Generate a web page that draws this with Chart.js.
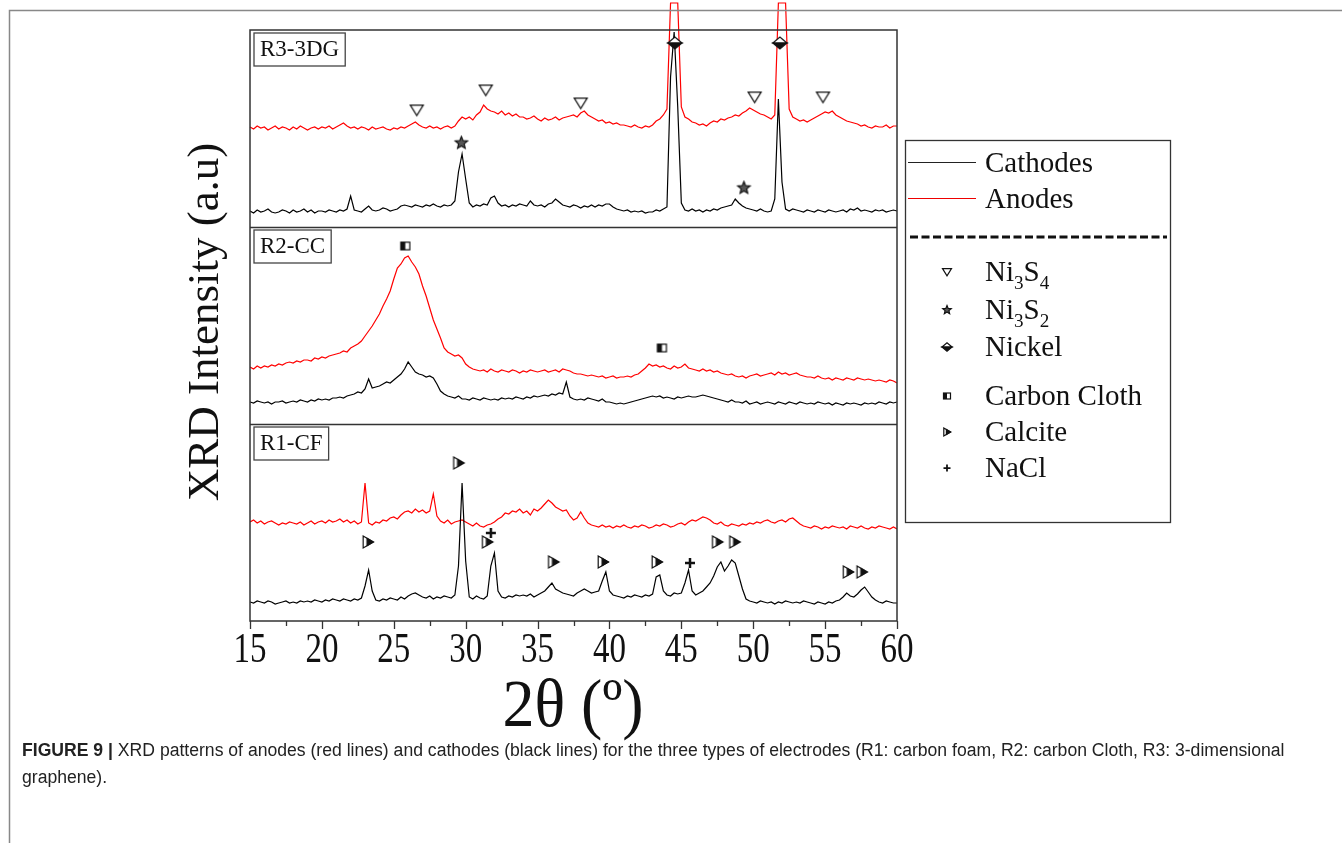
<!DOCTYPE html>
<html>
<head>
<meta charset="utf-8">
<script src="https://cdn.jsdelivr.net/npm/chart.js"></script>
<style>
    body { margin: 0; background: #fff; }
    #wrap { position: relative; width: 1342px; height: 843px; }
    #caption { position: absolute; left: 22px; top: 737px; font: 17.6px "Liberation Sans", Arial, sans-serif; line-height: 27px; color: #222; white-space: nowrap; }
</style>
</head>
<body>
<div id="wrap">
    <canvas id="xrd" width="1342" height="843"></canvas>
    <div id="caption"><b>FIGURE 9 |</b> XRD patterns of anodes (red lines) and cathodes (black lines) for the three types of electrodes (R1: carbon foam, R2: carbon Cloth, R3: 3-dimensional<br>graphene).</div>
</div>
<script>
    // 2theta grid: 15 to 60 deg, 0.25 deg step
    var thetaStart = 15;
    var thetaStep = 0.25;
    var tickLabels = [15, 20, 25, 30, 35, 40, 45, 50, 55, 60];
    var panelNames = ['R1-CF', 'R2-CC', 'R3-3DG'];
    var panelHeight = 197;

    // R3-3DG
    var dgAnode = [
        100,98,101,99, 100,97,99,101, 98,100,99,97, 100,98,101,99, 97,99,100,98,
        100,99,101,98, 100,102,104,101, 99,100,98,100, 99,97,100,98, 99,100,98,97,
        99,98,100,99, 101,103,105,102, 100,99,101,99, 100,98,100,101, 99,101,106,110,
        108,110,107,112, 115,122,118,116, 115,113,116,112, 114,111,113,110, 110,108,109,111,
        108,106,109,107, 108,110,107,109, 110,111,112,110, 114,116,112,110, 108,106,107,104,
        105,103,104,102, 102,101,100,102, 100,99,101,100, 102,106,108,112, 118,224,224,224,
        120,110,108,105, 104,102,103,101, 104,106,105,108, 107,109,110,112, 111,114,116,119,
        117,115,113,112, 110,108,112,224, 224,224,118,110, 108,106,107,105, 107,109,111,113,
        115,114,116,112, 110,108,106,105, 104,103,101,102, 100,99,101,100, 100,102,99,101,
        101
    ];
    var dgCathode = [
        16,14,17,15, 16,18,15,14, 15,17,16,14, 17,15,16,18, 15,17,14,16,
        16,15,17,16, 15,17,16,18, 31,17,16,15, 18,21,17,16, 17,19,18,16,
        17,18,21,22, 21,20,22,21, 20,22,21,23, 21,20,22,21, 22,26,55,73,
        48,24,20,22, 21,23,22,29, 31,24,21,22, 20,22,21,23, 22,21,26,22,
        21,22,20,23, 24,28,25,22, 21,20,22,21, 19,21,20,22, 20,22,21,23,
        23,20,18,17, 16,17,15,16, 15,16,14,15, 15,17,16,18, 20,150,195,120,
        24,17,16,18, 16,17,15,17, 16,18,17,19, 20,21,22,28, 24,21,19,18,
        17,16,18,16, 15,16,28,128, 45,18,16,18, 17,16,15,17, 16,15,17,16,
        15,17,16,15, 16,17,15,18, 17,19,16,17, 16,15,17,16, 17,15,16,17,
        16
    ];

    // R2-CC
    var ccAnode = [
        57,55,58,56, 58,57,59,58, 60,59,61,62, 61,63,62,64, 64,63,66,65,
        67,66,68,69, 70,71,73,72, 76,78,80,83, 88,93,98,104, 110,118,125,133,
        145,156,160,166, 168,162,157,150, 138,128,116,104, 95,86,76,72, 70,68,69,66,
        60,57,55,54, 53,54,52,55, 53,52,54,53, 52,54,53,51, 53,52,54,53,
        52,53,54,52, 53,54,52,55, 54,53,51,50, 50,49,48,49, 48,47,48,46,
        47,48,46,47, 47,48,47,49, 50,53,56,60, 58,59,57,58, 56,55,58,56,
        57,60,56,55, 54,53,55,53, 54,52,53,51, 50,49,50,48, 47,48,46,48,
        49,50,48,49, 50,51,49,52, 50,51,49,50, 51,49,48,47, 47,46,48,46,
        45,46,44,46, 45,44,46,45, 44,46,45,44, 45,44,43,44, 43,42,44,43,
        41
    ];
    var ccCathode = [
        22,21,23,22, 21,22,20,22, 22,23,21,22, 23,22,24,23, 22,24,23,25,
        24,25,24,26, 26,27,26,28, 29,30,32,31, 35,45,36,37, 38,40,42,41,
        44,47,50,55, 62,57,52,50, 49,47,48,46, 40,33,30,28, 27,26,28,25,
        25,24,26,25, 24,26,25,24, 25,24,26,25, 26,25,27,26, 25,27,26,28,
        27,28,29,28, 30,29,31,30, 42,27,25,24, 25,24,26,25, 24,23,25,22,
        22,21,20,21, 20,21,22,23, 24,25,26,27, 28,27,28,26, 27,26,25,27,
        26,27,28,27, 27,28,29,28, 27,26,25,24, 23,22,24,22, 22,21,23,20,
        21,22,20,21, 22,21,20,22, 21,20,22,21, 20,22,21,20, 21,20,22,21,
        20,21,19,21, 20,19,21,20, 21,20,19,21, 20,21,20,22, 21,20,22,21,
        22
    ];

    // R1-CF
    var cfAnode = [
        99,101,98,100, 97,99,100,98, 96,98,97,99, 98,97,99,96, 98,100,97,99,
        100,98,101,99, 100,102,99,101, 98,100,97,99, 138,98,96,99, 98,101,100,103,
        104,102,106,109, 110,108,112,109, 111,108,110,127, 105,100,98,101, 97,99,100,101,
        99,97,95,98, 95,94,96,97, 99,102,104,108, 107,110,109,112, 108,110,106,112,
        110,113,117,121, 118,114,112,110, 111,105,101,103, 109,103,98,96, 95,94,96,94,
        95,93,95,94, 96,94,93,95, 94,96,95,93, 94,96,95,97, 96,94,95,97,
        98,96,99,101, 100,102,104,103, 101,98,97,99, 96,95,97,96, 95,97,96,98,
        97,99,98,100, 101,99,98,100, 101,99,102,103, 100,97,95,94, 93,95,94,92,
        94,93,95,94, 93,94,92,95, 94,93,95,93, 92,94,93,95, 94,93,92,94,
        92
    ];
    var cfCathode = [
        19,18,20,19, 18,20,19,17, 18,19,20,18, 19,18,20,19, 20,19,21,20,
        19,21,20,22, 21,20,22,21, 20,22,21,23, 35,51,30,21, 20,22,21,23,
        22,21,24,22, 25,27,28,26, 24,23,25,22, 24,23,25,24, 23,26,55,138,
        60,24,22,25, 23,22,25,55, 68,30,24,23, 25,24,26,25, 26,25,27,24,
        26,28,30,34, 38,32,30,28, 27,26,25,28, 30,32,30,28, 29,30,40,49,
        30,26,25,24, 23,25,24,26, 25,24,26,25, 27,44,46,30, 26,25,28,27,
        28,38,51,30, 26,28,30,34, 38,45,54,59, 50,55,61,58, 45,32,22,20,
        19,18,20,19, 18,19,17,19, 18,20,19,18, 19,18,20,19, 18,17,19,18,
        17,19,18,20, 21,24,28,25, 24,27,31,34, 29,24,21,19, 18,20,19,18,
        18
    ];

    // phase markers [2theta, height in panel]
    var ni3s4Peaks = [[26.6, 117], [31.4, 137], [38.0, 124], [50.1, 130], [54.85, 130]];
    var ni3s2Peaks = [[29.7, 84], [49.35, 39]];
    var nickelPeaks = [[44.55, 184], [51.85, 184]];
    var carbonPeaks = [[25.8, 178], [43.65, 76]];
    var calcitePeaks = [[23.2, 79], [29.5, 158], [31.5, 79], [36.1, 59], [39.55, 59], [43.3, 59], [47.5, 79], [48.7, 79], [56.6, 49], [57.55, 49]];
    var naclPeaks = [[31.75, 88], [45.6, 58]];

    var phaseNames = ['Ni3S4', 'Ni3S2', 'Nickel', 'Carbon Cloth', 'Calcite', 'NaCl'];
    var phaseKinds = ['ni3s4', 'ni3s2', 'nickel', 'carbon', 'calcite', 'nacl'];

    var serif = '"Liberation Serif", "Times New Roman", serif';

    function drawMarker(ctx, kind, s) {
        ctx.lineWidth = 1.2;
        ctx.strokeStyle = '#111';
        ctx.fillStyle = '#fff';
        ctx.lineJoin = 'miter';
        if (kind == 'ni3s4') {
            ctx.beginPath();
            ctx.moveTo(-s, -0.75 * s);
            ctx.lineTo(s, -0.75 * s);
            ctx.lineTo(0, 0.85 * s);
            ctx.closePath();
            ctx.fill();
            ctx.stroke();
        }
        if (kind == 'ni3s2') {
            ctx.beginPath();
            for (var i = 0; i < 10; i++) {
                var r = i % 2 == 0 ? s : s * 0.45;
                var a = -Math.PI / 2 + i * Math.PI / 5;
                ctx.lineTo(r * Math.cos(a), r * Math.sin(a));
            }
            ctx.closePath();
            ctx.fillStyle = '#555';
            ctx.fill();
            ctx.stroke();
        }
        if (kind == 'nickel') {
            ctx.beginPath();
            ctx.moveTo(-s, 0); ctx.lineTo(0, -0.85 * s); ctx.lineTo(s, 0); ctx.closePath();
            ctx.fill(); ctx.stroke();
            ctx.beginPath();
            ctx.moveTo(-s, 0); ctx.lineTo(0, 0.85 * s); ctx.lineTo(s, 0); ctx.closePath();
            ctx.fillStyle = '#111';
            ctx.fill(); ctx.stroke();
        }
        if (kind == 'carbon') {
            ctx.fillRect(-s, -0.85 * s, 2 * s, 1.7 * s);
            ctx.fillStyle = '#111';
            ctx.fillRect(-s, -0.85 * s, s, 1.7 * s);
            ctx.strokeRect(-s, -0.85 * s, 2 * s, 1.7 * s);
        }
        if (kind == 'calcite') {
            ctx.beginPath();
            ctx.moveTo(-0.8 * s, -s); ctx.lineTo(0.9 * s, 0); ctx.lineTo(-0.8 * s, s); ctx.closePath();
            ctx.fill(); ctx.stroke();
            ctx.beginPath();
            ctx.moveTo(-0.15 * s, -0.62 * s); ctx.lineTo(0.9 * s, 0); ctx.lineTo(-0.15 * s, 0.62 * s); ctx.closePath();
            ctx.fillStyle = '#111';
            ctx.fill(); ctx.stroke();
        }
        if (kind == 'nacl') {
            ctx.lineWidth = s * 0.5;
            ctx.beginPath();
            ctx.moveTo(-s, 0); ctx.lineTo(s, 0);
            ctx.moveTo(0, -s); ctx.lineTo(0, s);
            ctx.stroke();
        }
    }

    function markerCanvas(kind, s) {
        var c = document.createElement('canvas');
        c.width = Math.ceil(2 * s + 4);
        c.height = Math.ceil(2 * s + 4);
        var cx = c.getContext('2d');
        cx.translate(c.width / 2, c.height / 2);
        drawMarker(cx, kind, s);
        return c;
    }

    function series(vals, base) {
        return vals.map(function (v, i) {
            return { x: thetaStart + i * thetaStep, y: v + base };
        });
    }

    function peaks(list, base) {
        return list.map(function (p) { return { x: p[0], y: p[1] + base }; });
    }

    var baseR1 = 0, baseR2 = panelHeight, baseR3 = 2 * panelHeight;

    function markerSet(list, base, kind, s) {
        return {
            type: 'scatter',
            data: peaks(list, base),
            pointStyle: markerCanvas(kind, s),
            pointRadius: s,
            showLine: false,
            clip: false
        };
    }

    function lineSet(vals, base, color, clip) {
        return {
            data: series(vals, base),
            borderColor: color,
            borderWidth: 1.2,
            pointRadius: 0,
            tension: 0,
            fill: false,
            clip: clip
        };
    }

    function textSub(ctx, str, x, y, size) {
        // digits are drawn as subscripts
        for (var i = 0; i < str.length; i++) {
            var ch = str[i];
            if (/[0-9]/.test(ch)) {
                ctx.font = (size * 0.66) + 'px ' + serif;
                ctx.fillText(ch, x, y + size * 0.26);
            } else {
                ctx.font = size + 'px ' + serif;
                ctx.fillText(ch, x, y);
            }
            x += ctx.measureText(ch).width;
        }
    }

    var decor = {
        id: 'decor',
        afterDraw: function (chart) {
            var ctx = chart.ctx, a = chart.chartArea;
            var xs = chart.scales.x, ys = chart.scales.y;
            ctx.save();

            // figure border
            ctx.strokeStyle = '#888';
            ctx.lineWidth = 1.5;
            ctx.beginPath();
            ctx.moveTo(9.5, 843); ctx.lineTo(9.5, 10.5); ctx.lineTo(1342, 10.5);
            ctx.stroke();

            // panels
            ctx.strokeStyle = '#333';
            ctx.lineWidth = 1.5;
            ctx.strokeRect(a.left, a.top, a.right - a.left, a.bottom - a.top);
            [baseR2, baseR3].forEach(function (v) {
                var py = Math.round(ys.getPixelForValue(v)) + 0.5;
                ctx.beginPath(); ctx.moveTo(a.left, py); ctx.lineTo(a.right, py); ctx.stroke();
            });

            // panel labels
            [baseR1, baseR2, baseR3].forEach(function (v, i) {
                var top = ys.getPixelForValue(v + panelHeight);
                ctx.font = '23px ' + serif;
                var w = ctx.measureText(panelNames[i]).width;
                ctx.fillStyle = '#fff';
                ctx.fillRect(a.left + 4, top + 3, w + 12, 33);
                ctx.strokeStyle = '#444';
                ctx.lineWidth = 1.3;
                ctx.strokeRect(a.left + 4, top + 3, w + 12, 33);
                ctx.fillStyle = '#111';
                ctx.textBaseline = 'middle';
                ctx.textAlign = 'left';
                ctx.fillText(panelNames[i], a.left + 10, top + 20);
            });

            // x ticks
            ctx.strokeStyle = '#333';
            ctx.lineWidth = 1.3;
            for (var t = 15; t <= 60; t += 2.5) {
                var px = Math.round(xs.getPixelForValue(t)) + 0.5;
                var len = t % 5 == 0 ? 8 : 5;
                ctx.beginPath(); ctx.moveTo(px, a.bottom); ctx.lineTo(px, a.bottom + len); ctx.stroke();
            }
            ctx.fillStyle = '#111';
            ctx.textAlign = 'center';
            ctx.textBaseline = 'middle';
            ctx.font = '33px ' + serif;
            tickLabels.forEach(function (t) {
                ctx.save();
                ctx.translate(xs.getPixelForValue(t), 651);
                ctx.scale(1, 1.28);
                ctx.fillText(String(t), 0, 0);
                ctx.restore();
            });

            // axis titles
            ctx.save();
            ctx.translate(573, 708);
            ctx.scale(1, 1.05);
            ctx.font = '64px ' + serif;
            ctx.fillText('2\u03b8 (\u00ba)', 0, 0);
            ctx.restore();

            ctx.save();
            ctx.translate(206, 322);
            ctx.rotate(-Math.PI / 2);
            ctx.font = '45px ' + serif;
            ctx.fillText('XRD Intensity (a.u)', 0, 0);
            ctx.restore();

            // legend
            ctx.strokeStyle = '#333';
            ctx.lineWidth = 1.3;
            ctx.strokeRect(905.5, 140.5, 265, 382);
            ctx.lineWidth = 1;
            ctx.strokeStyle = '#222';
            ctx.beginPath(); ctx.moveTo(908, 162.5); ctx.lineTo(976, 162.5); ctx.stroke();
            ctx.strokeStyle = '#e00';
            ctx.beginPath(); ctx.moveTo(908, 198.5); ctx.lineTo(976, 198.5); ctx.stroke();
            ctx.textAlign = 'left';
            ctx.textBaseline = 'alphabetic';
            ctx.fillStyle = '#111';
            ctx.font = '29px ' + serif;
            ctx.fillText('Cathodes', 985, 172);
            ctx.fillText('Anodes', 985, 208);
            ctx.strokeStyle = '#111';
            ctx.lineWidth = 3;
            ctx.setLineDash([8, 3.5]);
            ctx.beginPath(); ctx.moveTo(910, 237); ctx.lineTo(1167, 237); ctx.stroke();
            ctx.setLineDash([]);

            var legendY = [272, 310, 347, 396, 432, 468];
            var legendSize = [4.5, 4.5, 5, 3.5, 4, 3.5];
            phaseNames.forEach(function (name, i) {
                ctx.save();
                ctx.translate(947, legendY[i]);
                drawMarker(ctx, phaseKinds[i], legendSize[i]);
                ctx.restore();
                ctx.fillStyle = '#111';
                textSub(ctx, name, 985, legendY[i] + 9, 29);
            });

            ctx.restore();
        }
    };

    new Chart(document.getElementById('xrd'), {
        type: 'line',
        data: {
            datasets: [
                markerSet(nickelPeaks, baseR3, 'nickel', 7),
                markerSet(ni3s4Peaks, baseR3, 'ni3s4', 6.5),
                markerSet(ni3s2Peaks, baseR3, 'ni3s2', 6.5),
                markerSet(carbonPeaks, baseR2, 'carbon', 4.5),
                markerSet(calcitePeaks, baseR1, 'calcite', 6),
                markerSet(naclPeaks, baseR1, 'nacl', 5),
                lineSet(dgCathode, baseR3, '#000', undefined),
                lineSet(dgAnode, baseR3, '#f00', false),
                lineSet(ccCathode, baseR2, '#000', undefined),
                lineSet(ccAnode, baseR2, '#f00', undefined),
                lineSet(cfCathode, baseR1, '#000', undefined),
                lineSet(cfAnode, baseR1, '#f00', undefined)
            ]
        },
        options: {
            responsive: false,
            animation: false,
            layout: { padding: { left: 250, right: 445, top: 30, bottom: 222 } },
            scales: {
                x: { type: 'linear', min: 15, max: 60, display: false },
                y: { min: 0, max: 3 * panelHeight, display: false }
            },
            plugins: {
                legend: { display: false },
                tooltip: { enabled: false }
            }
        },
        plugins: [decor]
    });
</script>
</body>
</html>
